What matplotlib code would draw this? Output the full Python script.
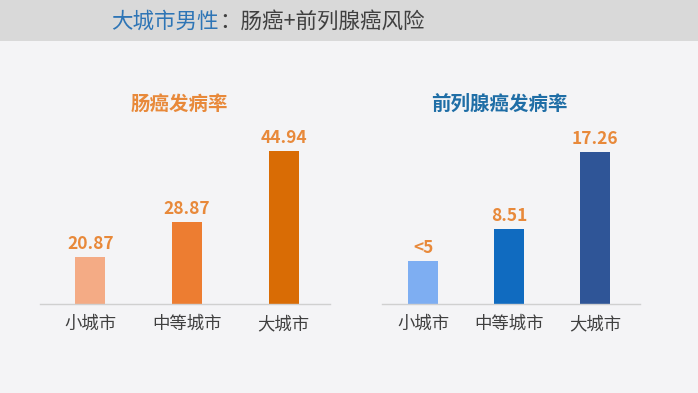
import matplotlib
matplotlib.use("Agg")
import matplotlib.pyplot as plt
from matplotlib.patches import Rectangle

plt.rcParams['font.family'] = ['Noto Sans CJK SC', 'DejaVu Sans']

# ---- data ----
categories = ["小城市", "中等城市", "大城市"]
colorectal_values = [20.87, 28.87, 44.94]
colorectal_labels = ["20.87", "28.87", "44.94"]
prostate_values = [4.9, 8.51, 17.26]
prostate_labels = ["<5", "8.51", "17.26"]

title_blue = "大城市男性"
title_rest = "：肠癌+前列腺癌风险"
left_title = "肠癌发病率"
right_title = "前列腺癌发病率"

W, H = 698, 393
fig = plt.figure(figsize=(W / 100, H / 100), dpi=100)
fig.patch.set_facecolor("#f4f4f6")

def fx(px):
    return px / W

def fy(py):
    return 1 - py / H

# title band
fig.patches.append(Rectangle((0, fy(41)), 1, 1 - fy(41), transform=fig.transFigure,
                             facecolor="#d9d9d9", edgecolor="none", zorder=0))
fig.text(fx(219), fy(22), title_blue, color="#2e75b6", fontsize=15.5,
         ha="right", va="center")
fig.text(fx(219), fy(22), title_rest, color="#404040", fontsize=15.5,
         ha="left", va="center")

base_px = 304
top_px = 140

def make_axes(left_px, right_px, xlim, ylim, values, labels, colors, width):
    ax = fig.add_axes([fx(left_px), fy(base_px), (right_px - left_px) / W,
                       (base_px - top_px) / H])
    ax.set_facecolor("none")
    x = range(len(values))
    ax.bar(x, values, width=width, color=colors, zorder=2)
    for xi, v, lab in zip(x, values, labels):
        ax.annotate(lab, (xi, v), xytext=(0, 3), textcoords="offset points",
                    ha="center", va="bottom", fontsize=12.5, fontweight="bold",
                    color="#e8893a", annotation_clip=False)
    ax.set_xlim(*xlim)
    ax.set_ylim(*ylim)
    ax.set_xticks(list(x))
    ax.set_xticklabels(categories, fontsize=12.5, color="#404040")
    ax.tick_params(axis="x", length=0, pad=8)
    ax.set_yticks([])
    for s in ["top", "left", "right"]:
        ax.spines[s].set_visible(False)
    ax.spines["bottom"].set_color("#d0d0d0")
    ax.spines["bottom"].set_linewidth(1)
    return ax

# left: colorectal (px per unit ~4.40, baseline ~10.2)
lbottom = 10.2
lscale = 4.40
make_axes(40, 330, (-0.52, 2.48), (lbottom, lbottom + (base_px - top_px) / lscale),
          colorectal_values, colorectal_labels,
          ["#f4ab85", "#ed7d31", "#d96c05"], 0.31)

# right: prostate (px per unit ~8.8, baseline 0)
rscale = 8.8
make_axes(382, 640, (-0.48, 2.52), (0, (base_px - top_px) / rscale),
          prostate_values, prostate_labels,
          ["#7eaef2", "#106bc0", "#2f5597"], 0.35)

fig.text(fx(179), fy(104), left_title, color="#e8893a", fontsize=14,
         fontweight="bold", ha="center", va="center")
fig.text(fx(499), fy(104), right_title, color="#1f6ea6", fontsize=14,
         fontweight="bold", ha="center", va="center")

fig.savefig("out.png", dpi=100, facecolor=fig.get_facecolor())
